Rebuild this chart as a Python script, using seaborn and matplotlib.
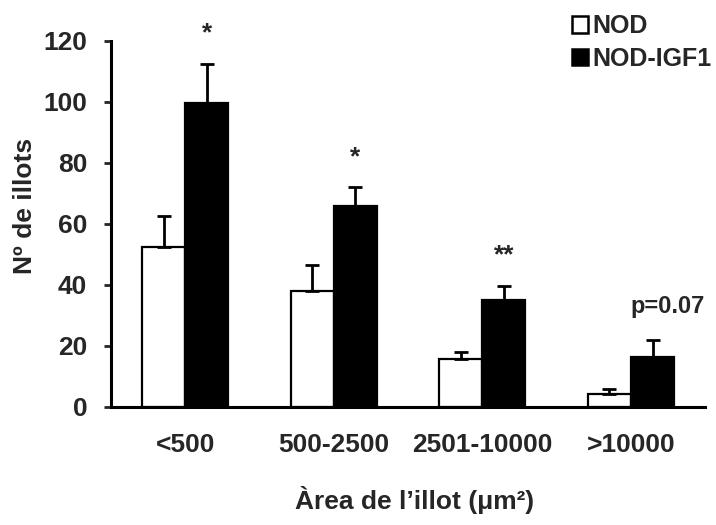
import matplotlib
matplotlib.use("Agg")
import matplotlib.pyplot as plt
from matplotlib.patches import Patch
import seaborn as sns
import pandas as pd
import numpy as np

categories = ["<500", "500-2500", "2501-10000", ">10000"]
groups = ["NOD", "NOD-IGF1"]
nod_values = [52.5, 38, 15.7, 4.3]
igf1_values = [99.5, 66, 35, 16.5]
nod_err = [10, 8.5, 2.4, 1.6]
igf1_err = [13, 6, 4.7, 5.5]
annotations = ["*", "*", "**", "p=0.07"]
yticks = [0, 20, 40, 60, 80, 100, 120]

df = pd.DataFrame({
    "area": categories * 2,
    "group": [groups[0]] * 4 + [groups[1]] * 4,
    "value": nod_values + igf1_values,
})

sns.set_theme(style="white")
plt.rcParams["font.family"] = ["Liberation Sans", "DejaVu Sans"]
plt.rcParams["font.weight"] = "bold"

FS = 19

fig = plt.figure(figsize=(7.16, 5.25), dpi=100)
ax = fig.add_axes([0.155, 0.225, 0.83, 0.697])

sns.barplot(data=df, x="area", y="value", hue="group", order=categories,
            hue_order=groups, palette=["white", "black"], edgecolor="black",
            linewidth=1.6, width=0.58, gap=0, errorbar=None, legend=False, ax=ax)

# error bars (upper only)
errs = {groups[0]: nod_err, groups[1]: igf1_err}
vals = {groups[0]: nod_values, groups[1]: igf1_values}
bars = list(ax.patches)
centers = {}
for gi, g in enumerate(groups):
    gbars = bars[gi * 4:(gi + 1) * 4]
    xs = [b.get_x() + b.get_width() / 2 for b in gbars]
    centers[g] = xs
    ax.errorbar(xs, vals[g], yerr=[np.zeros(4), errs[g]], fmt="none",
                ecolor="black", elinewidth=2, capsize=5, capthick=2,
                zorder=1)

for i, txt in enumerate(annotations):
    top = igf1_values[i] + igf1_err[i]
    if txt.startswith("p"):
        ax.text(centers[groups[1]][i] + 0.1, top + 11, txt, ha="center",
                va="center", fontsize=17, fontweight="bold", clip_on=False)
    else:
        ax.text(centers[groups[1]][i], top + 10, txt,
                ha="center", va="center", fontsize=19, fontweight="bold",
                clip_on=False)

ax.set_xlim(-0.5, 3.5)
ax.set_ylim(0, 120)
ax.set_yticks(yticks)
ax.tick_params(axis="y", length=5, width=2, direction="out", pad=12,
               labelsize=FS, left=True)
ax.tick_params(axis="x", length=0, pad=19, labelsize=FS)
for lab in ax.get_xticklabels() + ax.get_yticklabels():
    lab.set_fontweight("bold")

for s in ["top", "right"]:
    ax.spines[s].set_visible(False)
for s in ["left", "bottom"]:
    ax.spines[s].set_linewidth(2.2)
    ax.spines[s].set_color("black")

ax.set_ylabel("Nº de illots", fontsize=FS, fontweight="bold")
ax.set_xlabel("Àrea de l’illot (μm²)", fontsize=FS, fontweight="bold")
ax.yaxis.set_label_coords(-0.125, 0.55)
ax.xaxis.set_label_coords(0.51, -0.215)

handles = [Patch(facecolor="white", edgecolor="black", linewidth=1.8),
           Patch(facecolor="black", edgecolor="black", linewidth=1.8)]
fig.legend(handles, groups, loc="upper right",
           bbox_to_anchor=(712 / 716, 1 - 14 / 525), frameon=False,
           prop={"weight": "bold", "size": 18},
           handlelength=0.65, handleheight=0.65, handletextpad=0.2,
           labelspacing=0.35, borderpad=0, borderaxespad=0)

fig.savefig("out.png", dpi=100)
